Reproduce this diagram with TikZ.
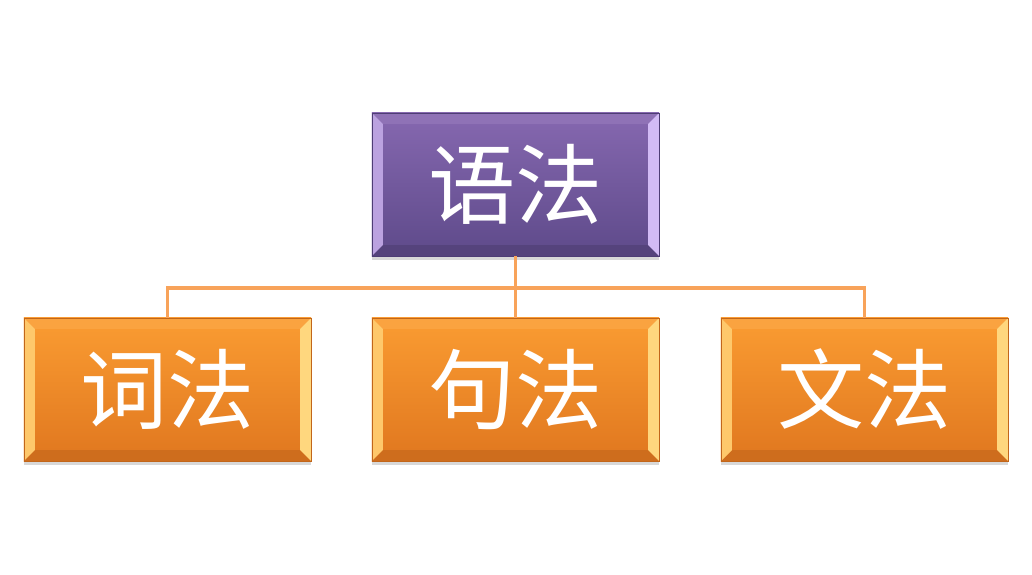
\documentclass[tikz,border=0pt]{standalone}
\usepackage{fontspec}
\newfontfamily\cjk{Noto Sans CJK SC}
\usepackage{xcolor}
\usepackage{tikz}
\usetikzlibrary{calc,positioning,shadows}

\definecolor{purpletop}{HTML}{8668B0}
\definecolor{purplebot}{HTML}{5E4A8A}
\definecolor{purplelt}{HTML}{D2BBF5}
\definecolor{purplerim}{HTML}{4E3D75}
\definecolor{orangetop}{HTML}{FA9C32}
\definecolor{orangebot}{HTML}{E0771F}
\definecolor{orangelt}{HTML}{FFD77E}
\definecolor{orangerim}{HTML}{C2661A}
\definecolor{linkorange}{HTML}{F8A35A}

% bevelled edges of a box: left, right, top, bottom colours
\newcommand\bevelpic[4]{%
  \coordinate (bnw) at (path picture bounding box.north west);
  \coordinate (bne) at (path picture bounding box.north east);
  \coordinate (bsw) at (path picture bounding box.south west);
  \coordinate (bse) at (path picture bounding box.south east);
  \fill[#3] (bnw) -- (bne) -- ($(bne)+(-0.27cm,-0.27cm)$) -- ($(bnw)+(0.27cm,-0.27cm)$) -- cycle;
  \fill[#4] (bsw) -- (bse) -- ($(bse)+(-0.27cm,0.27cm)$) -- ($(bsw)+(0.27cm,0.27cm)$) -- cycle;
  \fill[#1] (bnw) -- (bsw) -- ($(bsw)+(0.27cm,0.27cm)$) -- ($(bnw)+(0.27cm,-0.27cm)$) -- cycle;
  \fill[#2] (bne) -- (bse) -- ($(bse)+(-0.27cm,0.27cm)$) -- ($(bne)+(-0.27cm,-0.27cm)$) -- cycle;
}

\tikzset{
  gbox/.style={minimum width=7.175cm, minimum height=3.575cm, inner sep=0pt,
    font=\cjk\fontsize{62}{62}\selectfont, text=white,
    drop shadow={shadow xshift=0pt, shadow yshift=-3pt, opacity=0.3}},
  headbox/.style={gbox, top color=purpletop, bottom color=purplebot,
    draw=purplerim, line width=0.5pt,
    path picture={\bevelpic{purplelt!70!purpletop}{purplelt}{purpletop!93!white}{purplebot!90!black}}},
  partbox/.style={gbox, top color=orangetop, bottom color=orangebot,
    draw=orangerim, line width=0.5pt,
    path picture={\bevelpic{orangelt!75!orangetop}{orangelt}{orangetop!93!white}{orangebot!92!black}}},
  link/.style={linkorange, line width=2.2pt},
}

\begin{document}
\begin{tikzpicture}[x=0.025cm,y=-0.025cm]
  \fill[white] (0,0) rectangle (1032,574);
  \useasboundingbox (0,0) rectangle (1032,574);

  \coordinate (hub) at (515.5,288);

  % boxes
  \node[headbox] (gram) at (515.5,184.5) {语法};
  \node[partbox] (word) at (167.5,389.5) {词法};
  \node[partbox] (sent) at (515.5,389.5) {句法};
  \node[partbox] (text) at (864.5,389.5) {文法};

  % connectors
  \draw[link] (gram.south) -- (hub);
  \draw[link] (hub) -| (word.north);
  \draw[link] (hub) -| (text.north);
  \draw[link] (hub) -- (sent.north);
\end{tikzpicture}
\end{document}
